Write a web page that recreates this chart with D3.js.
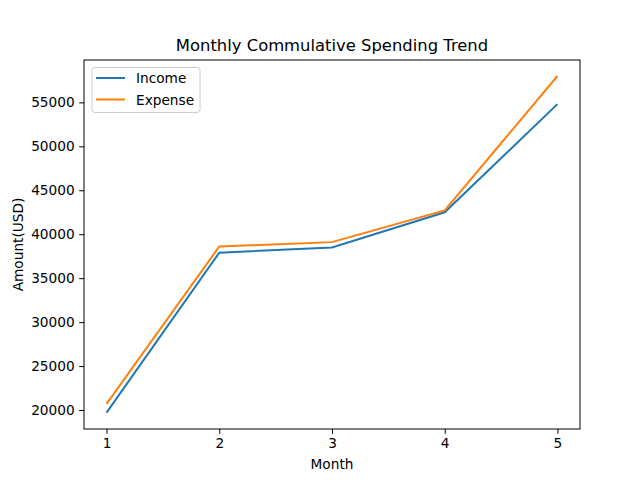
<!DOCTYPE html>
<html>
<head>
<meta charset="utf-8">
<script src="https://cdn.jsdelivr.net/npm/d3@7"></script>
<style>
  body { margin: 0; background: #fff; }
  svg { display: block; font-family: "DejaVu Sans", sans-serif; }
</style>
</head>
<body>
<div id="chart"></div>
<script>
// data
const months = [1, 2, 3, 4, 5];
const income = [19700, 37900, 38500, 42500, 54800];
const expense = [20700, 38600, 39100, 42700, 58000];
const yTicks = [20000, 25000, 30000, 35000, 40000, 45000, 50000, 55000];

const width = 631, height = 491;
const margin = {top: 60, right: 51, bottom: 62, left: 84};
const innerW = width - margin.left - margin.right;
const innerH = height - margin.top - margin.bottom;

const svg = d3.select("#chart").append("svg")
    .attr("width", width)
    .attr("height", height);

const g = svg.append("g")
    .attr("transform", "translate(" + margin.left + "," + margin.top + ")");

// scales
const x = d3.scaleLinear()
    .domain([0.8, 5.2])
    .range([0, innerW]);

const y = d3.scaleLinear()
    .domain([17840, 59820])
    .range([innerH, 0]);

// axes
const xAxis = g.append("g")
    .attr("transform", "translate(0," + innerH + ")")
    .call(d3.axisBottom(x).tickValues(months).tickFormat(d3.format("d")).tickSize(4.8).tickPadding(4.5));

const yAxis = g.append("g")
    .call(d3.axisLeft(y).tickValues(yTicks).tickFormat(d3.format("d")).tickSize(4.8).tickPadding(4.5));

[xAxis, yAxis].forEach(a => {
    a.select(".domain").remove();
    a.selectAll("text")
        .attr("font-family", "DejaVu Sans, sans-serif")
        .attr("font-size", "13.7px")
        .attr("fill", "#000");
    a.selectAll("line").attr("stroke", "#000").attr("stroke-width", 1);
});

// frame
g.append("rect")
    .attr("width", innerW)
    .attr("height", innerH)
    .attr("fill", "none")
    .attr("stroke", "#000")
    .attr("stroke-width", 1);

// lines
const series = [
    {name: "Income", values: income, color: "#1f77b4"},
    {name: "Expense", values: expense, color: "#ff7f0e"}
];

const line = d3.line()
    .x((d, i) => x(months[i]))
    .y(d => y(d));

g.selectAll("path.series")
    .data(series)
    .join("path")
    .attr("class", "series")
    .attr("d", d => line(d.values))
    .attr("fill", "none")
    .attr("stroke", d => d.color)
    .attr("stroke-width", 2);

// legend
const legend = g.append("g")
    .attr("transform", "translate(8,7.5)");

legend.append("rect")
    .attr("width", 108)
    .attr("height", 45)
    .attr("rx", 3)
    .attr("fill", "#fff")
    .attr("fill-opacity", 0.8)
    .attr("stroke", "#ccc");

legend.selectAll("line")
    .data(series)
    .join("line")
    .attr("x1", 4)
    .attr("x2", 33)
    .attr("y1", (d, i) => 10.5 + i * 21.5)
    .attr("y2", (d, i) => 10.5 + i * 21.5)
    .attr("stroke", d => d.color)
    .attr("stroke-width", 2);

legend.selectAll("text")
    .data(series)
    .join("text")
    .attr("x", 44)
    .attr("y", (d, i) => 15.5 + i * 21.5)
    .attr("font-size", "13.7px")
    .attr("fill", "#000")
    .text(d => d.name);

// title and axis labels
svg.append("text")
    .attr("x", margin.left + innerW / 2)
    .attr("y", 51)
    .attr("text-anchor", "middle")
    .attr("font-size", "16.4px")
    .attr("fill", "#000")
    .text("Monthly Commulative Spending Trend");

svg.append("text")
    .attr("x", margin.left + innerW / 2)
    .attr("y", 469)
    .attr("text-anchor", "middle")
    .attr("font-size", "13.7px")
    .attr("fill", "#000")
    .text("Month");

svg.append("text")
    .attr("transform", "translate(23," + (margin.top + innerH / 2) + ") rotate(-90)")
    .attr("text-anchor", "middle")
    .attr("font-size", "13.7px")
    .attr("fill", "#000")
    .text("Amount(USD)");
</script>
</body>
</html>
